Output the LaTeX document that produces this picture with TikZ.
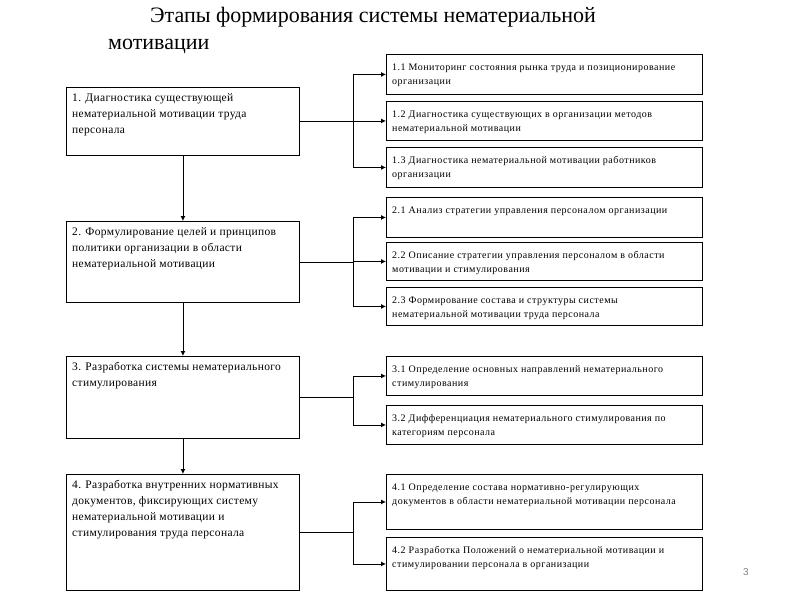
\documentclass[tikz,border=0pt]{standalone}
\usepackage{fontspec}
\setmainfont{Liberation Serif}
\newfontfamily\numfont{Liberation Sans}
\usetikzlibrary{arrows.meta}
\usetikzlibrary{calc}
\tikzset{>={Latex[length=5pt,width=5pt]}}
\tikzstyle{stagebox}=[draw=black,line width=0.9pt,anchor=north west,minimum width=233pt,inner sep=0pt]
\tikzstyle{stepbox}=[draw=black,line width=0.9pt,anchor=north west,minimum width=316pt,inner sep=0pt]
\tikzstyle{stagetext}=[anchor=north west,align=left,inner xsep=6pt,inner ysep=6pt,font=\fontsize{11.5}{16}\selectfont\addfontfeature{LetterSpace=3}]
\tikzstyle{steptext}=[anchor=north west,align=left,inner xsep=6pt,inner ysep=9.5pt,font=\fontsize{10}{14}\selectfont\addfontfeature{LetterSpace=5}]
\tikzstyle{link}=[draw=black,line width=0.9pt]

\begin{document}
\begin{tikzpicture}[x=1pt,y=-1pt]
  \useasboundingbox (0,0) rectangle (800,600);
  
  \node[anchor=north west,align=left,inner sep=0pt,font=\fontsize{22}{27}\selectfont] (title) at (108,7)
    {\hspace*{42pt}Этапы формирования системы нематериальной\\мотивации};
  
  % left column
  \node[stagebox,minimum height=68pt] (s1) at (66,87) {};
  \node[stagebox,minimum height=81pt] (s2) at (66,221) {};
  \node[stagebox,minimum height=82pt] (s3) at (66,356) {};
  \node[stagebox,minimum height=116pt] (s4) at (66,474) {};
  
  \node[stagetext] (s1t) at (s1.north west) {1. Диагностика существующей\\нематериальной мотивации труда\\персонала};
  \node[stagetext] (s2t) at (s2.north west) {2. Формулирование целей и принципов\\политики организации в области\\нематериальной мотивации};
  \node[stagetext] (s3t) at (s3.north west) {3. Разработка системы нематериального\\стимулирования};
  \node[stagetext] (s4t) at (s4.north west) {4. Разработка внутренних нормативных\\документов, фиксирующих систему\\нематериальной мотивации и\\стимулирования труда персонала};
  
  % right column
  \node[stepbox,minimum height=40pt] (b11) at (386,54) {};
  \node[stepbox,minimum height=39pt] (b12) at (386,101) {};
  \node[stepbox,minimum height=40pt] (b13) at (386,147) {};
  \node[stepbox,minimum height=40pt] (b21) at (386,197) {};
  \node[stepbox,minimum height=38pt] (b22) at (386,242) {};
  \node[stepbox,minimum height=38pt] (b23) at (386,287) {};
  \node[stepbox,minimum height=39pt] (b31) at (386,356) {};
  \node[stepbox,minimum height=39pt] (b32) at (386,405) {};
  \node[stepbox,minimum height=55pt] (b41) at (386,474) {};
  \node[stepbox,minimum height=53pt] (b42) at (386,537) {};
  
  \node[steptext] (b11t) at (b11.north west) {1.1 Мониторинг состояния рынка труда и позиционирование\\организации};
  \node[steptext] (b12t) at (b12.north west) {1.2 Диагностика существующих в организации методов\\нематериальной мотивации};
  \node[steptext] (b13t) at (b13.north west) {1.3 Диагностика нематериальной мотивации работников\\организации};
  \node[steptext] (b21t) at (b21.north west) {2.1 Анализ стратегии управления персоналом организации};
  \node[steptext] (b22t) at (b22.north west) {2.2 Описание стратегии управления персоналом в области\\мотивации и стимулирования};
  \node[steptext] (b23t) at (b23.north west) {2.3 Формирование состава и структуры системы\\нематериальной мотивации труда персонала};
  \node[steptext] (b31t) at (b31.north west) {3.1 Определение основных направлений нематериального\\стимулирования};
  \node[steptext] (b32t) at (b32.north west) {3.2 Дифференциация нематериального стимулирования по\\категориям персонала};
  \node[steptext] (b41t) at (b41.north west) {4.1 Определение состава нормативно-регулирующих\\документов в области нематериальной мотивации персонала};
  \node[steptext] (b42t) at (b42.north west) {4.2 Разработка Положений о нематериальной мотивации и\\стимулировании персонала в организации};
  
  % arrows down
  \draw[link,->] (s1.south) -- (s2.north);
  \draw[link,->] (s2.south) -- (s3.north);
  \draw[link,->] (s3.south) -- (s4.north);
  
  % branches
  \foreach \s/\b in {s1/b11,s1/b12,s1/b13,s2/b21,s2/b22,s2/b23,s3/b31,s3/b32,s4/b41,s4/b42}
    \draw[link,->] (\s.east) -- ++(54,0) |- (\b.west);
  
  \node[anchor=center,text=gray,font=\numfont\fontsize{10}{12}\selectfont] (pnum) at (746,572) {3};
  
\end{tikzpicture}
\end{document}
